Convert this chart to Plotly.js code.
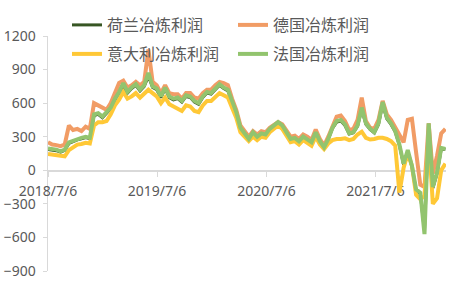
<!DOCTYPE html>
<html><head><meta charset="utf-8">
<script src="https://cdn.plot.ly/plotly-3.0.1.min.js"></script>
<style>html,body{margin:0;padding:0;background:#fff}</style>
</head><body><div id="chart" style="width:449px;height:296px"></div>
<script>
// biweekly observations starting 2018/7/6
var startDate = '2018-07-06';
var stepDays = 14;
var seriesNames = ['荷兰冶炼利润','德国冶炼利润','意大利冶炼利润','法国冶炼利润'];
var tickDates = ['2018-07-06','2019-07-06','2020-07-06','2021-07-06'];
var tickLabels = ['2018/7/6','2019/7/6','2020/7/6','2021/7/6'];

var nlProfit = [185,180,175,162,178,240,258,272,282,292,
  282,490,500,470,510,550,630,690,760,690,
  730,760,710,750,840,740,720,650,730,650,
  630,640,610,660,650,610,590,650,690,680,
  720,760,730,710,610,510,375,325,275,335,
  295,325,315,365,395,425,395,335,275,285,
  255,295,275,245,335,255,200,275,375,430,
  440,400,325,335,395,545,410,365,335,410,
  590,460,410,345,225,50,170,30,-180,-210,
  -540,400,-160,-30,190,185];
var deProfit = [250,230,225,215,230,400,360,370,350,390,
  370,600,580,560,540,600,700,780,800,740,
  760,790,760,790,1080,790,760,690,760,690,
  680,680,640,690,690,650,640,690,720,720,
  760,790,780,760,640,540,400,350,300,350,
  320,350,340,380,410,430,410,350,300,310,
  280,320,300,270,365,280,220,300,400,480,
  490,440,360,370,450,650,440,380,370,450,
  620,500,450,380,320,250,450,460,160,-130,
  -150,420,-30,130,330,370];
var itProfit = [145,140,135,125,125,180,210,230,235,245,
  240,400,430,430,440,500,580,630,700,640,
  660,690,650,680,720,690,660,600,650,590,
  570,560,530,580,570,530,520,580,620,620,
  650,690,670,650,560,470,340,300,260,300,
  270,300,290,340,370,400,370,310,250,260,
  230,270,250,220,300,230,190,240,270,280,
  280,285,270,280,320,345,290,275,280,290,
  290,280,260,220,-200,20,150,40,-220,-260,
  -230,300,-300,-250,0,60];
var frProfit = [195,190,185,170,185,250,265,280,290,300,
  290,500,510,480,520,560,640,700,780,700,
  740,770,720,760,870,750,730,660,740,660,
  640,650,620,670,660,620,600,660,700,690,
  730,770,740,720,620,520,380,330,280,340,
  300,330,320,370,400,430,400,340,280,290,
  260,300,280,250,340,260,205,280,380,440,
  450,410,330,340,400,560,420,370,340,420,
  610,470,420,350,230,60,180,40,-170,-200,
  -570,420,-150,-20,200,190];

function buildDates(n){
  var out=[]; var t0=Date.parse(startDate+'T00:00:00Z');
  for(var i=0;i<n;i++){ out.push(new Date(t0+i*stepDays*86400000).toISOString().slice(0,10)); }
  return out;
}
var dates = buildDates(frProfit.length);

var colors = ['#375623','#F19C65','#FFC836','#92C46E'];
var widths = [3,4,4,4];
var vals = [nlProfit,deProfit,itProfit,frProfit];
var legendOf = ['legend','legend','legend2','legend2'];
var traces = vals.map(function(v,i){
  return {x:dates,y:v,type:'scatter',mode:'lines',name:seriesNames[i],
    line:{color:colors[i],width:widths[i]},legend:legendOf[i]};
});
var axisColor='#d9d9d9';
var tickFont={family:'Noto Sans, Arial, sans-serif',size:14,color:'#595959'};
var legFont={family:'Noto Sans CJK SC, sans-serif',size:16,color:'#595959'};
var layout = {
  width:449,height:296,
  margin:{l:48,r:3,t:36,b:25,autoexpand:false},
  paper_bgcolor:'#fff',plot_bgcolor:'#fff',
  showlegend:true,
  xaxis:{type:'date',range:['2018-07-06','2022-02-27'],tickmode:'array',
    tickvals:tickDates,ticktext:tickLabels,ticks:'outside',ticklen:5,tickcolor:axisColor,
    showline:true,linecolor:axisColor,linewidth:1.5,showgrid:false,zeroline:false,
    anchor:'free',position:900/2100,tickfont:tickFont,layer:'below traces',ticklabelstandoff:2,
    automargin:false},
  yaxis:{range:[-900,1200],tick0:0,dtick:300,ticks:'outside',ticklen:4,tickcolor:axisColor,
    showline:true,linecolor:axisColor,linewidth:1.5,showgrid:false,zeroline:false,
    tickfont:tickFont,layer:'below traces',ticklabelstandoff:4,automargin:false},
  legend:{orientation:'h',xref:'container',yref:'container',x:67/449,y:1-8/296,
    xanchor:'left',yanchor:'top',font:legFont,entrywidthmode:'pixels',entrywidth:121,
    bgcolor:'rgba(0,0,0,0)',borderwidth:0},
  legend2:{orientation:'h',xref:'container',yref:'container',x:67/449,y:1-37/296,
    xanchor:'left',yanchor:'top',font:legFont,entrywidthmode:'pixels',entrywidth:121,
    bgcolor:'rgba(0,0,0,0)',borderwidth:0}
};
Plotly.newPlot('chart',traces,layout,{displayModeBar:false,staticPlot:true});
</script></body></html>
